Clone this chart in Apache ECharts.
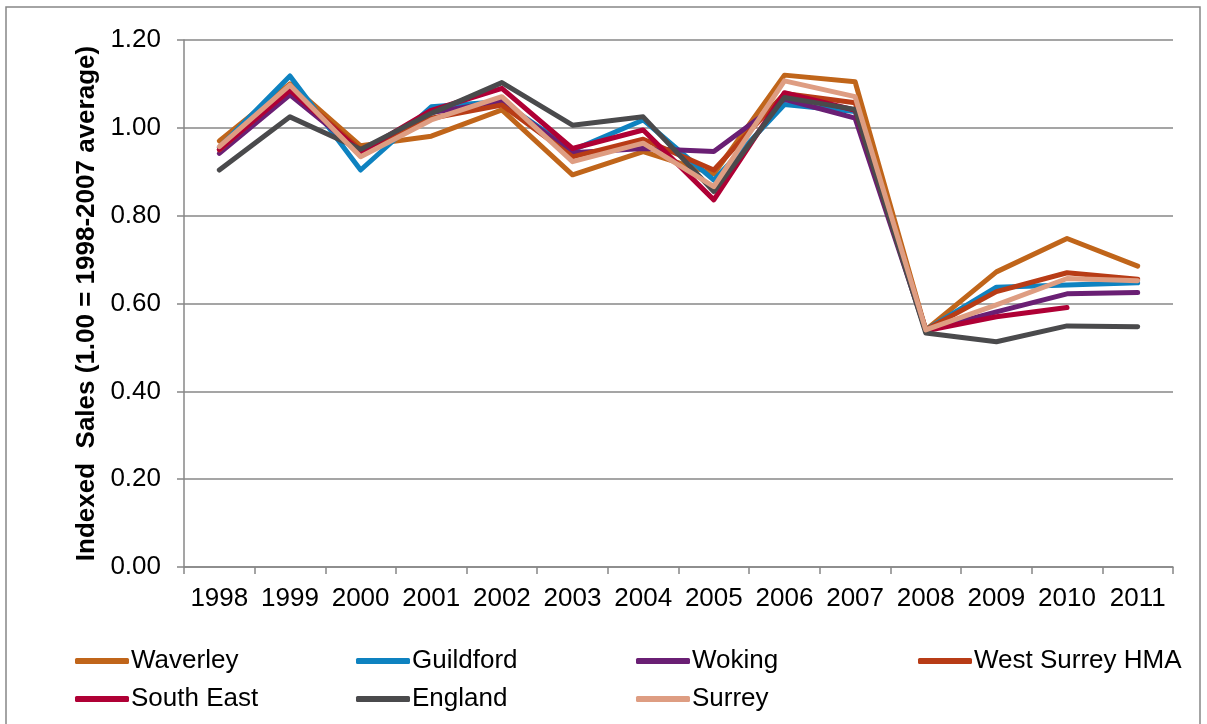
<!DOCTYPE html>
<html>
<head>
<meta charset="utf-8">
<script src="https://cdn.jsdelivr.net/npm/echarts@6/dist/echarts.min.js"></script>
<style>
html,body{margin:0;padding:0;background:#fff;}
#chart{width:1207px;height:724px;}
</style>
</head>
<body>
<div id="chart"></div>
<script>
var years = ['1998','1999','2000','2001','2002','2003','2004','2005','2006','2007','2008','2009','2010','2011'];
var yTicks = [0, 0.2, 0.4, 0.6, 0.8, 1.0, 1.2];
var waverley  = [0.970, 1.100, 0.959, 0.981, 1.041, 0.893, 0.946, 0.895, 1.120, 1.105, 0.540, 0.672, 0.748, 0.685];
var guildford = [0.955, 1.118, 0.904, 1.048, 1.060, 0.949, 1.018, 0.881, 1.053, 1.037, 0.540, 0.637, 0.642, 0.647];
var woking    = [0.942, 1.075, 0.945, 1.035, 1.060, 0.943, 0.953, 0.946, 1.065, 1.022, 0.538, 0.581, 0.622, 0.625];
var westSurreyHMA = [0.950, 1.090, 0.950, 1.022, 1.052, 0.934, 0.974, 0.904, 1.078, 1.057, 0.540, 0.627, 0.670, 0.655];
var southEast = [0.951, 1.086, 0.945, 1.040, 1.090, 0.953, 0.995, 0.836, 1.080, 1.040, 0.538, 0.570, 0.591, null];
var england   = [0.904, 1.025, 0.951, 1.033, 1.103, 1.006, 1.025, 0.855, 1.069, 1.042, 0.533, 0.513, 0.549, 0.547];
var surrey    = [0.957, 1.097, 0.934, 1.018, 1.071, 0.923, 0.965, 0.866, 1.107, 1.071, 0.540, 0.597, 0.657, 0.652];

var seriesDefs = [
  {name:'Waverley', data:waverley, color:'#C0651A'},
  {name:'Guildford', data:guildford, color:'#0E82C0'},
  {name:'Woking', data:woking, color:'#6A1F74'},
  {name:'West Surrey HMA', data:westSurreyHMA, color:'#B83C16'},
  {name:'South East', data:southEast, color:'#AF0035'},
  {name:'England', data:england, color:'#4A4A4C'},
  {name:'Surrey', data:surrey, color:'#DE9D82'}
];

var FONT = 'Liberation Sans, Arial, sans-serif';
var gridCol = '#878787';

function legendCol(names, left) {
  return {
    orient: 'vertical', left: left, top: 643, itemGap: 12,
    itemWidth: 54, itemHeight: 6, icon: 'roundRect',
    data: names,
    textStyle: {fontFamily: FONT, fontSize: 26, color: '#000', padding:[0,0,0,-3]},
    selectedMode: false
  };
}

var chart = echarts.init(document.getElementById('chart'), null, {renderer:'canvas'});
chart.setOption({
  backgroundColor: '#fff',
  animation: false,
  graphic: [{
    type: 'rect', shape: {x: 6, y: 7, width: 1194, height: 740},
    style: {fill: 'none', stroke: '#868686', lineWidth: 1.5}, silent: true, z: -1
  }],
  grid: {left: 184, right: 34, top: 40, bottom: 157, containLabel: false},
  legend: [
    legendCol(['Waverley','South East'], 70),
    legendCol(['Guildford','England'], 351),
    legendCol(['Woking','Surrey'], 631),
    legendCol(['West Surrey HMA'], 913)
  ],
  xAxis: {
    type: 'category', data: years, boundaryGap: true,
    axisLine: {lineStyle: {color: gridCol, width: 1.5}},
    axisTick: {show: true, length: 7, lineStyle: {color: gridCol, width: 1.5}},
    axisLabel: {fontFamily: FONT, fontSize: 26, color: '#000', margin: 19, interval: 0}
  },
  yAxis: {
    type: 'value', min: yTicks[0], max: yTicks[yTicks.length-1], interval: 0.2,
    name: 'Indexed  Sales (1.00 = 1998-2007 average)',
    nameLocation: 'middle', nameGap: 79,
    nameTextStyle: {fontFamily: FONT, fontSize: 26, fontWeight: 'bold', color: '#000'},
    axisLine: {show: true, lineStyle: {color: gridCol, width: 1.5}},
    axisTick: {show: true, length: 7, lineStyle: {color: gridCol, width: 1.5}},
    axisLabel: {fontFamily: FONT, fontSize: 26, color: '#000', margin: 23,
      formatter: function(v){ return v.toFixed(2); }},
    splitLine: {show: true, lineStyle: {color: gridCol, width: 1.5}}
  },
  series: seriesDefs.map(function(s){
    return {
      name: s.name, type: 'line', data: s.data, showSymbol: false, symbol: 'none',
      connectNulls: false,
      itemStyle: {color: s.color},
      lineStyle: {color: s.color, width: 5, cap: 'round', join: 'round'}
    };
  })
});
</script>
</body>
</html>
